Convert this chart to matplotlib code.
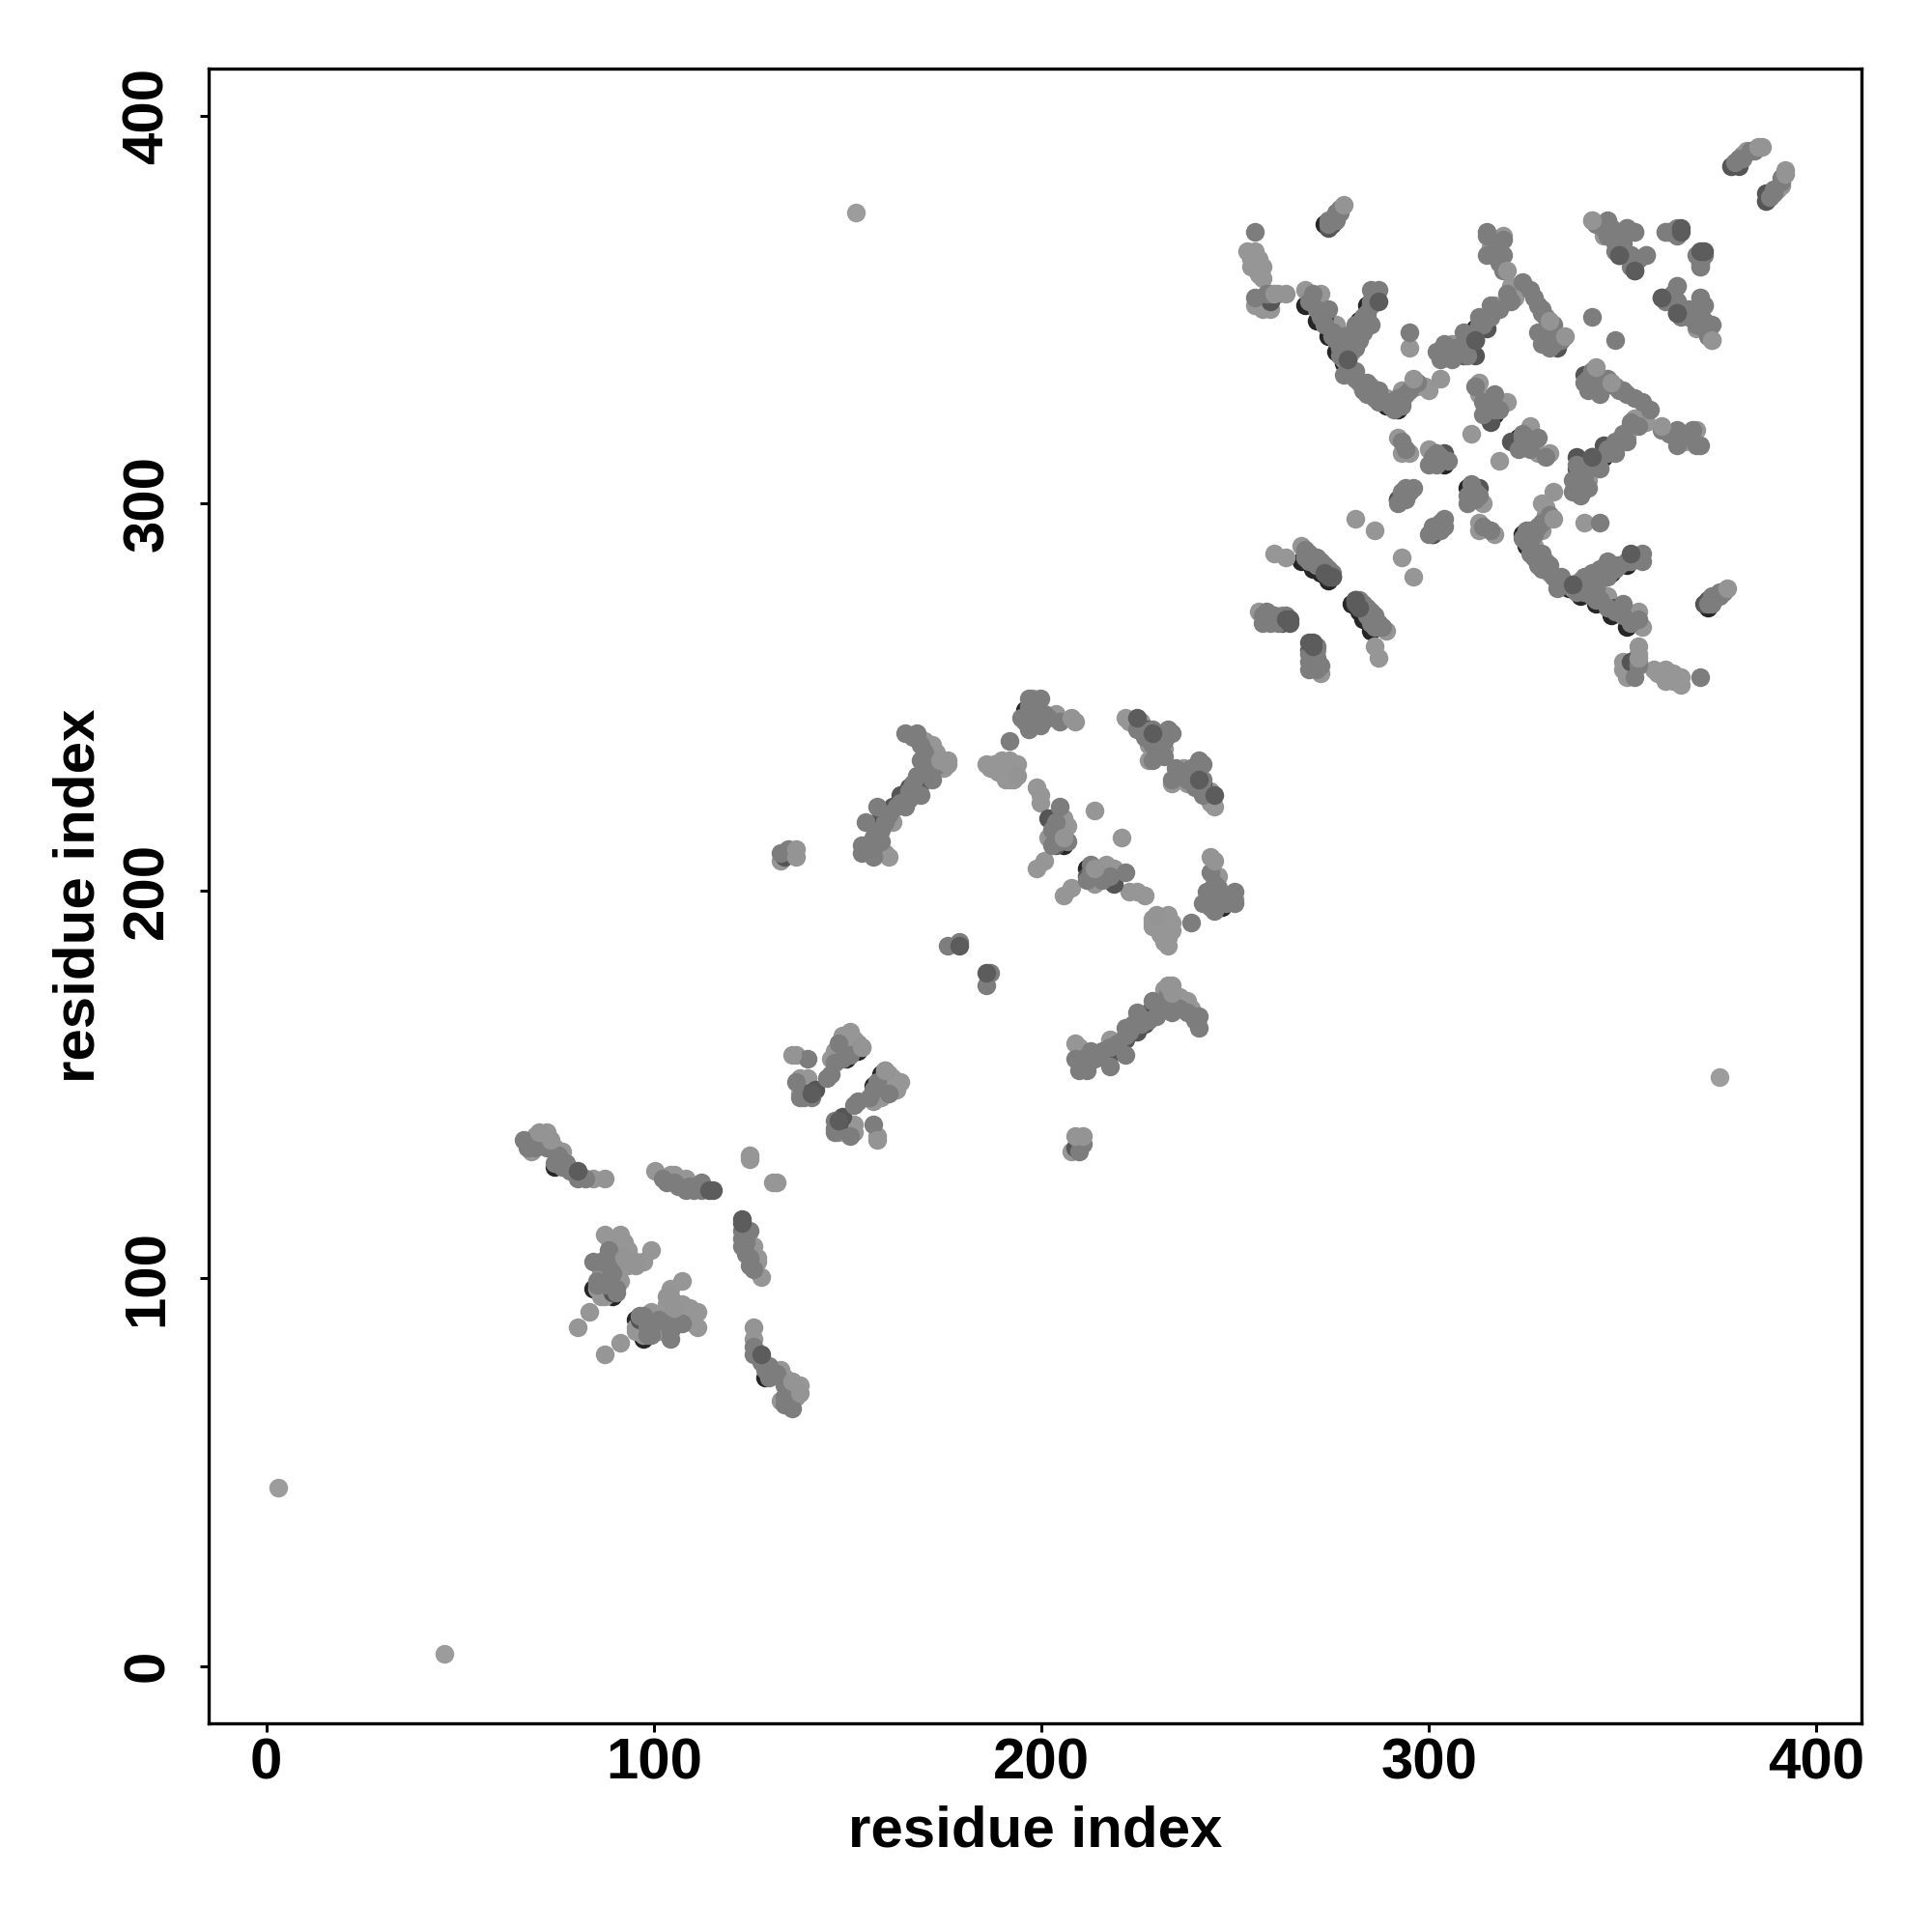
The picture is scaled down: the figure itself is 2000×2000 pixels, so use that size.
import matplotlib
matplotlib.use("Agg")
import matplotlib.pyplot as plt

plt.rcParams['font.family'] = ['Liberation Sans', 'DejaVu Sans']
plt.rcParams['font.weight'] = 'bold'

tick_values = [0, 100, 200, 300, 400]
axis_title = "residue index"

# contacts are symmetric: one half is listed, the mirror half is drawn from it
contacts_black = [
    (272,371),(267,350),(270,346),(273,342),(275,338),(277,335),(279,332),(282,329),(285,327),(288,324),(291,323),
    (283,350),(281,346),(279,342),(311,344),(310,340),(316,322),(303,309),(291,300),
    (266,284),(269,282),(271,281),(273,279),(195,246),(205,211),(155,210),(164,223),(172,231),
    (152,158),(149,156),(111,123),(84,97),(89,95),(74,128),(257,352),(363,348),
]
contacts_light = [
    (252,364),(254,364),(253,360),(256,360),(256,357),(260,353),(256,349),(258,349),
    (267,354),(271,353),(275,345),(279,338),(281,330),(284,329),(288,326),(292,328),
    (299,328),(291,316),(292,312),(294,312),(299,313),(294,339),(312,330),(312,327),(319,325),(310,317),
    (320,355),(318,368),(315,365),(341,372),(352,369),(369,360),(369,348),(368,344),
    (378,387),(381,390),(377,386),(259,286),(262,285),(266,288),(280,295),(285,292),(255,271),(258,270),(261,270),
    (132,207),(171,237),(185,232),(189,233),(191,233),(191,228),(188,230),
    (198,226),(199,222),(205,218),(201,213),(200,207),(198,205),(213,220),(203,245),(221,244),(227,233),(243,222),
    (161,217),(160,208),(227,237),(236,231),
    (72,137),(68,132),(76,132),(84,125),(100,127),(104,126),(108,125),
    (87,111),(91,111),(93,107),(99,107),(97,104),(91,104),(91,99),(87,95),(83,91),(80,87),(124,131),(124,130),
    (152,160),(149,158),(145,156),(137,151),(139,151),(137,147),(150,163),
    (69,136),(71,136),(74,133),(76,130),(105,126),(107,123),
    (88,110),(90,110),(89,108),(93,103),(90,103),(86,101),(85,97),(86,95),(90,101),(92,109),
    (136,157),(147,158),(151,161),(148,162),(146,158),(150,160),(137,149),(138,148),
    (172,235),(174,231),(169,238),(154,210),(156,209),(159,209),
    (197,249),(189,231),(190,229),(192,231),(204,214),(199,224),(206,216),(203,212),
    (225,243),(228,235),(234,229),(192,230),(190,232),(192,228),(191,230),(187,232),(186,231),(193,232),(190,228),
    (273,346),(276,343),(277,336),(296,329),(298,329),(316,350),(321,352),(320,353),(305,340),
    (253,362),(255,362),(255,358),(257,351),(258,351),(254,350),(256,351),
    (380,389),
]
contacts_dark = [
    (274,371),(291,300),(303,312),(272,347),(274,343),(276,339),(278,336),(314,344),(311,341),(308,337),(311,337),
    (315,320),(348,367),(351,363),(359,352),(367,348),(332,339),
    (273,280),(272,282),(168,227),(161,221),(157,217),(201,218),(227,241),
    (88,99),(89,96),(139,147),
    (141,148),(133,208),(163,224),(165,226),(197,243),(203,211),(258,351),(379,386),(377,386),
    (272,281),(271,283),(274,280),(261,268),(273,370),
]
contacts_mid = [
    (254,369),(254,352),(257,353),(276,374),(275,372),(269,353),(273,349),(277,342),(286,354),(284,354),(283,347),(280,345),(277,332),
    (294,343),(299,309),(295,303),(292,302),(316,327),(313,322),(315,350),(320,351),(312,347),(308,343),(306,339),(303,340),(305,336),(302,336),
    (314,368),(314,363),(318,363),(318,359),(325,354),(327,350),(328,348),(327,343),(330,342),(330,339),(341,347),
    (345,372),(345,368),(349,369),(355,363),(360,369),(362,369),(369,362),(363,355),(363,351),(369,352),(368,345),
    (267,286),(269,285),(271,284),(257,269),(259,269),(379,388),(383,390),
    (134,210),(132,209),(164,240),(167,240),(168,237),(168,233),(171,228),(164,221),(168,224),(157,221),(154,217),(157,213),(153,211),(153,209),(156,208),
    (194,244),(196,241),(199,242),(200,245),(199,249),(196,249),(191,238),(224,241),(228,241),(232,241),(230,238),(233,228),(237,228),(240,233),
    (204,221),(178,186),(175,185),(66,135),(68,134),(74,129),(76,128),(80,125),(84,104),(88,107),(88,103),(85,99),
    (139,156),(147,160),(145,152),(108,122),
    (273,372),(268,351),(271,347),(274,343),(276,339),(278,336),(280,333),(283,330),(286,328),(289,325),(292,324),
    (284,351),(282,347),(280,343),(312,345),(311,341),(317,323),(304,310),(292,301),(267,285),(270,283),(272,282),(274,280),
    (196,247),(206,212),(156,211),(165,224),(173,232),(153,159),(150,157),(112,124),(85,98),(90,96),(75,129),(258,353),(364,349),
    (67,133),(69,133),(71,135),(72,133),(75,131),(77,129),(78,127),(82,125),
    (102,125),(103,124),(105,124),(106,123),(109,123),(110,122),(112,122),
    (86,104),(87,98),(89,101),(90,97),
    (148,156),(146,155),(144,151),(136,150),(138,146),(140,146),(137,146),(135,209),
    (156,210),(158,212),(156,213),(158,215),(159,217),(160,219),(162,221),(163,222),(165,225),(166,227),(165,223),(167,229),(169,231),(170,233),(166,239),(169,235),
    (197,245),(198,244),(195,243),(198,248),(201,244),(204,243),
    (203,217),(202,215),(203,213),(204,212),(202,211),
    (226,240),(229,239),(229,235),(231,234),(235,230),(238,229),(239,226),(241,225),(238,231),
    (270,349),(272,345),(274,342),(275,341),(276,337),(278,334),(279,333),(280,331),(282,328),(283,327),(285,326),(286,325),(289,324),(290,323),
    (285,352),(284,350),(283,348),(284,345),(282,343),(281,341),(280,339),(278,341),(279,339),
    (292,325),(293,327),(294,328),(296,330),(291,326),(290,325),
    (314,369),(318,367),(316,364),(317,361),(313,345),(315,347),(317,349),(319,353),(310,342),(309,341),(306,338),(304,337),(303,337),(301,338),(309,337),(308,339),
    (323,356),(326,352),(328,349),(329,347),(331,345),(333,341),(331,340),(328,340),(330,344),
    (292,315),(293,313),(300,311),(301,312),(301,309),(302,311),(311,329),(313,325),(316,324),(314,323),(316,323),(293,303),(294,302),(293,300),(291,299),
    (342,371),(344,370),(346,369),(347,368),(350,370),(349,366),(353,362),(352,361),(350,363),(361,369),(363,368),(370,363),(369,361),
    (360,351),(362,353),(363,350),(364,347),(366,347),(370,350),(368,346),(370,346),(371,343),
    (378,387),(380,388),(382,390),
    (267,287),(268,286),(270,285),(270,283),(272,283),(273,282),(274,281),(268,284),
    (256,270),(257,271),(259,270),(260,268),(256,268),(258,268),(262,270),(275,374),(274,372),(276,375),(273,371),
]
contacts_top_dark = [
    (263,268),(262,269),(263,269),(286,351),(348,363),(352,359),(364,370),(369,364),(363,348),
    (240,228),(224,244),(80,127),(114,122),(115,122),(140,147),(178,185),(272,281),(274,280),(311,341),(278,336),
]
contacts_top_light = [
    (277,376),(334,342),(372,341),(302,331),(295,331),(262,353),(259,353),(136,210),(175,233),(175,232),(193,229),
    (205,213),(207,244),(73,135),(70,137),(87,125),(92,105),(95,104),(135,157),(153,159),(385,391),(384,391),
    (319,359),(330,346),(243,208),(173,233),(95,103),(136,208),
]
isolated_points = [(3,46),(152,375)]
shades = {"black": "#262626", "light": "#969696", "mid": "#7d7d7d", "dark": "#555555", "top_dark": "#5c5c5c", "top_light": "#949494"}
isolated_shade = "#9c9c9c"


def read_back(v):
    """Small correction of the pixel reading of a residue index, per region of the chart."""
    return v + (0.3 if v < 120 else 0.7 if v < 252 else 1.0)


fig = plt.figure(figsize=(10, 10), dpi=200, facecolor="white")
ax = fig.add_axes([216/2000, (2000-1783.5)/2000, (1927-216)/2000, (1783.5-71)/2000])

def both_halves(points):
    xs = [read_back(p[0]) for p in points] + [read_back(p[1]) for p in points]
    ys = [read_back(p[1]) for p in points] + [read_back(p[0]) for p in points]
    return xs, ys

for pts, key in [(contacts_black, "black"), (contacts_light, "light"), (contacts_dark, "dark"),
                 (contacts_mid, "mid"), (contacts_top_dark, "top_dark"), (contacts_top_light, "top_light")]:
    xs, ys = both_halves(pts)
    ax.scatter(xs, ys, s=49, c=shades[key], linewidths=0, zorder=3)
ax.scatter([p[0] for p in isolated_points] + [p[1] for p in isolated_points],
           [p[1] for p in isolated_points] + [p[0] for p in isolated_points],
           s=49, c=isolated_shade, linewidths=0, zorder=3)

ax.set_xlim(-14.9, 411.6)
ax.set_ylim(-14.7, 412.1)
ax.set_xticks(tick_values)
ax.set_yticks(tick_values)
ax.tick_params(axis="x", length=3.2, width=1.1, labelsize=21.6, pad=2.1)
ax.tick_params(axis="y", length=3.2, width=1.1, labelsize=21.6, pad=9.5)
for lab in ax.get_yticklabels():
    lab.set_rotation(90)
    lab.set_va("center")
for s in ax.spines.values():
    s.set_linewidth(1.2)
ax.set_xlabel(axis_title, fontsize=21.6, fontweight="bold", labelpad=5.5)
ax.set_ylabel(axis_title, fontsize=21.6, fontweight="bold", labelpad=5.7)
fig.savefig("out.png", dpi=200, facecolor="white")
